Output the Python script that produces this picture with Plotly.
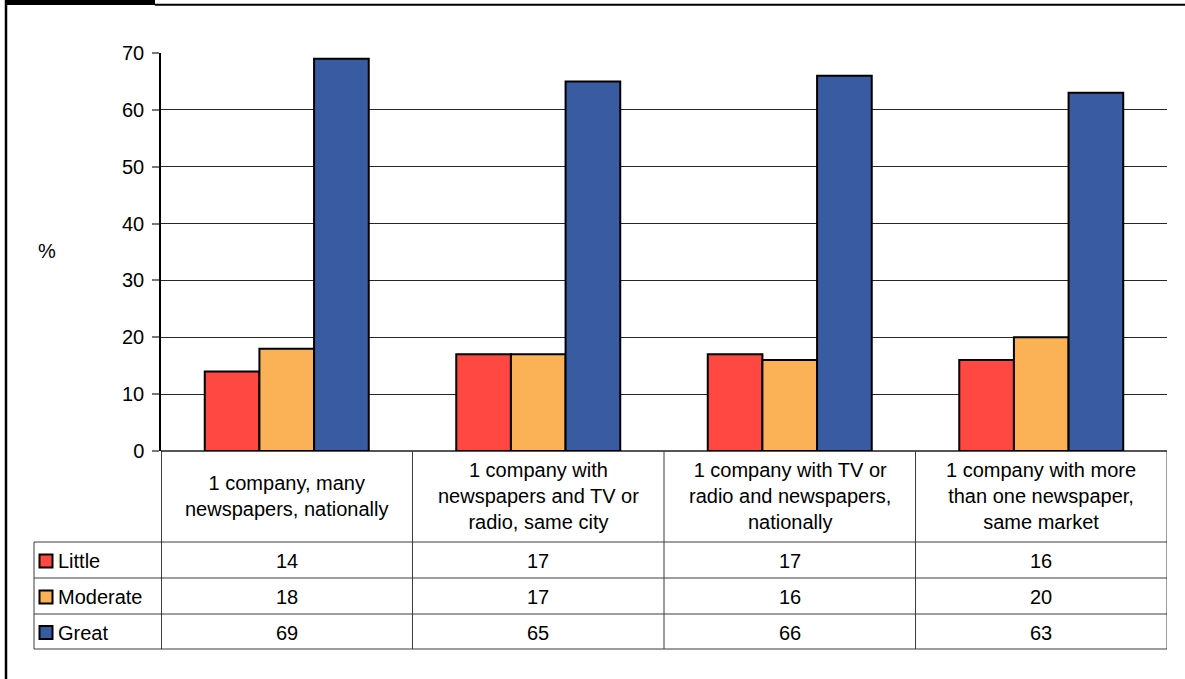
import plotly.graph_objects as go

# ---- data ----
categories = [
    "1 company, many<br>newspapers, nationally",
    "1 company with<br>newspapers and TV or<br>radio, same city",
    "1 company with TV or<br>radio and newspapers,<br>nationally",
    "1 company with more<br>than one newspaper,<br>same market",
]
series_names = ["Little", "Moderate", "Great"]
little = [14, 17, 17, 16]
moderate = [18, 17, 16, 20]
great = [69, 65, 66, 63]
y_ticks = [0, 10, 20, 30, 40, 50, 60, 70]

series_values = [little, moderate, great]
colors = ["#FF4842", "#FBB156", "#395BA1"]

W, H = 1185, 679
FONT = "Liberation Sans, Arial, sans-serif"
FS = 20


def px_x(p):
    return p / W


def px_y(p):
    return 1 - p / H


x_idx = list(range(len(categories)))

fig = go.Figure()
for name, vals, col in zip(series_names, series_values, colors):
    fig.add_trace(go.Bar(
        x=x_idx, y=vals, name=name,
        marker=dict(color=col, line=dict(color="#000000", width=2)),
        showlegend=False, hoverinfo="x+y+name",
    ))

# plot region in pixels
PL, PR, PT, PB = 161, 1167, 53, 451
# data table geometry in pixels
TABLE_LEFT = 34
HEADER_BOTTOM = 542
ROW_EDGES = [542, 578, 614, 649]

shapes = []
line_col = "#3c3c3c"

# horizontal table rules
for yp in ROW_EDGES:
    shapes.append(dict(type="line", xref="paper", yref="paper",
                       x0=px_x(TABLE_LEFT), x1=px_x(PR), y0=px_y(yp), y1=px_y(yp),
                       line=dict(color=line_col, width=1)))
# vertical table rules between categories
for k in range(len(categories) + 1):
    xv = k - 0.5
    shapes.append(dict(type="line", xref="x", yref="paper",
                       x0=xv, x1=xv, y0=px_y(PB), y1=px_y(ROW_EDGES[-1]),
                       line=dict(color="#000000" if k == 0 else line_col,
                                 width=1.5 if k == 0 else 1)))
# left edge of the row-label column
shapes.append(dict(type="line", xref="paper", yref="paper",
                   x0=px_x(TABLE_LEFT), x1=px_x(TABLE_LEFT),
                   y0=px_y(HEADER_BOTTOM), y1=px_y(ROW_EDGES[-1]),
                   line=dict(color=line_col, width=1)))

# outer frame: black tab, top rule and left rule
shapes.append(dict(type="rect", xref="paper", yref="paper",
                   x0=px_x(5), x1=px_x(155), y0=px_y(0), y1=px_y(5),
                   fillcolor="#000000", line=dict(width=0)))
shapes.append(dict(type="line", xref="paper", yref="paper",
                   x0=px_x(155), x1=1, y0=px_y(4.7), y1=px_y(4.7),
                   line=dict(color="#000000", width=2)))
shapes.append(dict(type="line", xref="paper", yref="paper",
                   x0=px_x(6), x1=px_x(6), y0=0, y1=1,
                   line=dict(color="#000000", width=2.5)))

annotations = []
# category header cells
for i, cat in enumerate(categories):
    annotations.append(dict(
        x=i, xref="x", y=px_y((PB + HEADER_BOTTOM) / 2), yref="paper",
        text=cat, showarrow=False, xanchor="center", yanchor="middle",
        align="center", font=dict(family=FONT, size=FS, color="#000000"),
    ))

# value rows with legend keys
for r, (name, vals, col) in enumerate(zip(series_names, series_values, colors)):
    y0, y1 = ROW_EDGES[r], ROW_EDGES[r + 1]
    yc = (y0 + y1) / 2 + 1
    shapes.append(dict(type="rect", xref="paper", yref="paper",
                       x0=px_x(39.5), x1=px_x(52.5), y0=px_y(yc - 6.5), y1=px_y(yc + 6.5),
                       fillcolor=col, line=dict(color="#000000", width=2)))
    annotations.append(dict(
        x=px_x(56), xref="paper", y=px_y(yc), yref="paper",
        text=name, showarrow=False, xanchor="left", yanchor="middle",
        font=dict(family=FONT, size=FS, color="#000000"),
    ))
    for i, v in enumerate(vals):
        annotations.append(dict(
            x=i, xref="x", y=px_y(yc), yref="paper",
            text=str(v), showarrow=False, xanchor="center", yanchor="middle",
            font=dict(family=FONT, size=FS, color="#000000"),
        ))

# y-axis unit label
annotations.append(dict(
    x=px_x(46.5), xref="paper", y=px_y(251), yref="paper",
    text="%", showarrow=False, xanchor="center", yanchor="middle",
    font=dict(family=FONT, size=FS, color="#000000"),
))

fig.update_layout(
    width=W, height=H,
    margin=dict(l=0, r=0, t=0, b=0, autoexpand=False),
    paper_bgcolor="#ffffff", plot_bgcolor="#ffffff",
    barmode="group", bargap=0.348, bargroupgap=0,
    shapes=shapes, annotations=annotations,
    font=dict(family=FONT, size=FS, color="#000000"),
    xaxis=dict(
        domain=[px_x(PL), px_x(PR)], range=[-0.5, len(categories) - 0.5],
        showticklabels=False, showgrid=False, zeroline=False,
        showline=False, ticks="", fixedrange=True, automargin=False,
    ),
    yaxis=dict(
        domain=[px_y(PB), px_y(PT)], range=[0, 70],
        tickvals=y_ticks, ticktext=[str(t) for t in y_ticks],
        showgrid=True, gridcolor="#262626", gridwidth=1,
        zeroline=True, zerolinecolor="#555555", zerolinewidth=1.5,
        showline=True, linecolor="#000000", linewidth=1.5,
        ticks="outside", ticklen=7, tickcolor="#777777", tickwidth=1.5,
        ticklabelstandoff=4, automargin=False,
        tickfont=dict(family=FONT, size=FS, color="#000000"),
        fixedrange=True,
    ),
)

fig.write_html("out.html", config={"displayModeBar": False})
